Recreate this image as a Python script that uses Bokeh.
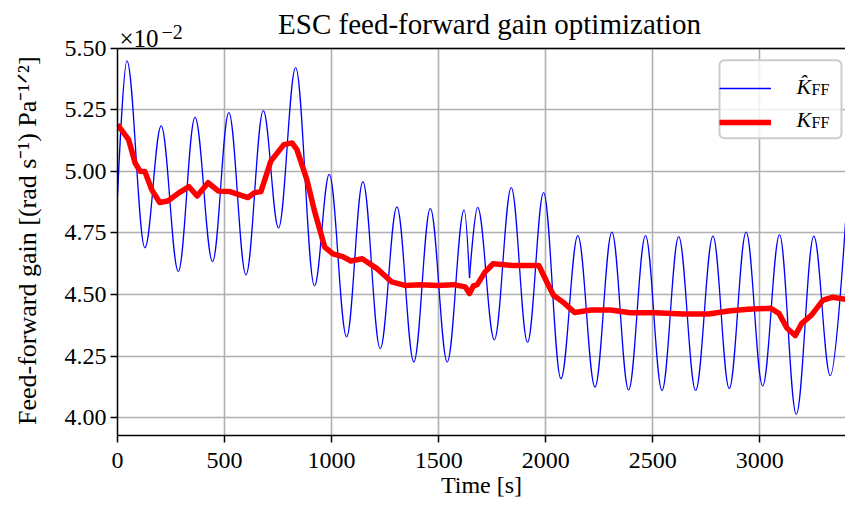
from bokeh.plotting import figure
from bokeh.models import (FixedTicker, PrintfTickFormatter, Label, Legend,
                          LegendItem, ColumnDataSource, Span, BoxAnnotation)
from bokeh.embed import file_html
from bokeh.resources import INLINE

# ---------------- data (values in units of 1e-2) ----------------
title_text = "ESC feed-forward gain optimization"
x_label = "Time [s]"
y_label = "Feed-forward gain [(rad s\u207b\u00b9) Pa\u207b\u00b9\u141f\u00b2]"
x_ticks = [0, 500, 1000, 1500, 2000, 2500, 3000]
y_ticks = [4.00, 4.25, 4.50, 4.75, 5.00, 5.25, 5.50]
x_lim = (0, 3400)
y_lim = (3.927, 5.50)

# estimate K_hat_FF: turning points of the dithered signal (time, value)
khat_t = [0, 44, 128, 204, 284, 362, 444, 520, 600, 681, 752, 832, 920, 989,
          1070, 1146, 1227, 1305, 1384, 1461, 1540, 1619, 1644, 1682, 1760,
          1839, 1915, 1990, 2071, 2150, 2230, 2309, 2387, 2466, 2543, 2621,
          2700, 2781, 2857, 2936, 3013, 3092, 3170, 3252, 3329, 3400]
khat_v = [4.90, 5.449, 4.69, 5.185, 4.594, 5.22, 4.634, 5.239, 4.58, 5.247,
          4.77, 5.422, 4.535, 4.988, 4.328, 4.958, 4.28, 4.856, 4.226, 4.85,
          4.226, 4.844, 4.567, 4.854, 4.316, 4.934, 4.306, 4.914, 4.158,
          4.739, 4.124, 4.753, 4.112, 4.739, 4.11, 4.735, 4.11, 4.737, 4.118,
          4.753, 4.128, 4.742, 4.013, 4.737, 4.17, 4.793]
# points where the curve has a corner instead of a smooth turn
khat_sharp_t = [0, 1644, 3400]

# K_FF (filtered gain)
k_t = [0, 52, 82, 105, 128, 159, 197, 235, 288, 334, 372, 423, 472, 525, 571,
       609, 640, 670, 716, 777, 815, 838, 884, 922, 968, 1006, 1052, 1090,
       1143, 1212, 1281, 1342, 1418, 1494, 1570, 1624, 1644, 1662, 1680, 1716,
       1754, 1845, 1968, 2005, 2036, 2082, 2135, 2212, 2303, 2395, 2517, 2639,
       2761, 2853, 2944, 3051, 3089, 3127, 3165, 3196, 3242, 3295, 3341, 3400]
k_v = [5.19, 5.129, 5.035, 5.001, 5.0, 4.927, 4.874, 4.88, 4.914, 4.938, 4.90,
       4.954, 4.92, 4.918, 4.905, 4.894, 4.914, 4.918, 5.042, 5.109, 5.116,
       5.089, 4.968, 4.833, 4.692, 4.665, 4.654, 4.636, 4.645, 4.605, 4.551,
       4.537, 4.54, 4.537, 4.54, 4.531, 4.504, 4.535, 4.54, 4.591, 4.625,
       4.618, 4.618, 4.551, 4.497, 4.468, 4.427, 4.437, 4.437, 4.426, 4.426,
       4.421, 4.421, 4.433, 4.44, 4.444, 4.423, 4.363, 4.333, 4.383, 4.417,
       4.477, 4.489, 4.48]

FONT = "Liberation Serif"
BLUE = "#0000ff"
RED = "#ff0000"

# layout (pixels): axes box from y=48 to y=436, header space above it
W, H = 845, 500
AX_TOP, AX_BOT, AX_LEFT = 48, 436, 117
scale = (AX_BOT - AX_TOP) / (y_lim[1] - y_lim[0])
y_top = y_lim[1] + AX_TOP / scale  # frame extends up to cover the header


def px_x(px):
    return x_lim[0] + (px - AX_LEFT) * (x_lim[1] - x_lim[0]) / (W - AX_LEFT)


def px_y(py):
    return y_lim[1] - (py - AX_TOP) / scale


p = figure(width=W, height=H, x_range=x_lim, y_range=(y_lim[0], y_top),
           output_backend="svg", toolbar_location=None,
           min_border_left=AX_LEFT, min_border_right=0, min_border_top=0,
           min_border_bottom=H - AX_BOT)
p.background_fill_color = "white"
p.border_fill_color = "white"
p.outline_line_color = None

for ax in (p.xaxis[0], p.yaxis[0]):
    ax.axis_line_width = 1.5
    ax.major_tick_line_width = 1.5
    ax.major_tick_out = 7
    ax.major_tick_in = 0
    ax.minor_tick_line_color = None
    ax.major_label_text_font = FONT
    ax.major_label_text_font_size = "24px"
    ax.major_label_text_color = "black"
    ax.axis_label_text_font = FONT
    ax.axis_label_text_font_size = "24px"
    ax.axis_label_text_font_style = "normal"
    ax.axis_label_text_color = "black"

p.xaxis.ticker = FixedTicker(ticks=x_ticks)
p.yaxis.ticker = FixedTicker(ticks=y_ticks)
p.yaxis.bounds = y_lim
p.yaxis.formatter = PrintfTickFormatter(format="%.2f")
p.xaxis.axis_label = x_label
# trailing no-break spaces centre the rotated label on the axes box
p.yaxis.axis_label = y_label + "\u00a0" * 7
p.yaxis.axis_label_text_font_size = "26px"
p.xaxis.major_label_standoff = 10
p.xaxis.axis_label_standoff = 1
p.yaxis.major_label_standoff = 4
p.yaxis.axis_label_standoff = 20

p.grid.grid_line_color = "#b0b0b0"
p.grid.grid_line_width = 1.6
xg = p.xgrid[0]
if "cross_bounds" in xg.properties():
    xg.cross_bounds = y_lim
else:
    xg.visible = False
    p.segment(x0=x_ticks, y0=[y_lim[0]] * len(x_ticks), x1=x_ticks,
              y1=[y_lim[1]] * len(x_ticks), line_color="#b0b0b0",
              line_width=1.6, level="underlay")

# top spine of the axes box
p.add_layout(Span(location=y_lim[1], dimension="width", line_color="black",
                  line_width=1.5))

# K_hat_FF: smooth curve through the turning points
K = 0.364
seg = dict(x0=[], y0=[], x1=[], y1=[], cx0=[], cy0=[], cx1=[], cy1=[])
for i in range(len(khat_t) - 1):
    t0, v0, t1, v1 = khat_t[i], khat_v[i], khat_t[i + 1], khat_v[i + 1]
    dt = t1 - t0
    seg["x0"].append(t0); seg["y0"].append(v0)
    seg["x1"].append(t1); seg["y1"].append(v1)
    if t0 in khat_sharp_t:
        seg["cx0"].append(t0); seg["cy0"].append(v0)
    else:
        seg["cx0"].append(t0 + K * dt); seg["cy0"].append(v0)
    if t1 in khat_sharp_t:
        seg["cx1"].append(t1); seg["cy1"].append(v1)
    else:
        seg["cx1"].append(t1 - K * dt); seg["cy1"].append(v1)
khat_r = p.bezier(x0="x0", y0="y0", x1="x1", y1="y1", cx0="cx0", cy0="cy0",
                  cx1="cx1", cy1="cy1", source=ColumnDataSource(seg),
                  line_color=BLUE, line_width=1.3)

k_line = p.line(k_t, k_v, line_color=RED, line_width=5.5, line_join="round")

# legend frame (semi-transparent, light grey border)
box = BoxAnnotation(left=px_x(719), right=px_x(841), top=px_y(60),
                    bottom=px_y(138), fill_color="white", fill_alpha=0.8,
                    line_color="#cccccc", line_alpha=1.0, line_width=2,
                    level="annotation")
if "border_radius" in box.properties():
    box.border_radius = 5
p.add_layout(box)

legend = Legend(items=[LegendItem(label=" ", renderers=[khat_r]),
                       LegendItem(label=" ", renderers=[k_line])],
                location=(602, 298), padding=7, spacing=4, margin=0,
                glyph_width=52, glyph_height=30, label_height=30,
                label_width=38, label_standoff=18,
                background_fill_color=None, border_line_color=None,
                label_text_font_size="2px")
p.add_layout(legend)


def lbl(text, x, xo, yo, size, style="normal", align="left"):
    p.add_layout(Label(x=x, y=y_lim[1], x_offset=xo, y_offset=yo, text=text,
                       text_font=FONT, text_font_size=size,
                       text_font_style=style, text_align=align,
                       text_baseline="alphabetic", text_color="black",
                       level="overlay"))


# legend texts
lbl("K\u0302", x_lim[1], -49, -38, "22px", "italic")
lbl("FF", x_lim[1], -34, -41, "16px")
lbl("K", x_lim[1], -49, -71, "22px", "italic")
lbl("FF", x_lim[1], -34, -74, "16px")

# axis offset text and title
lbl("\u00d710", x_lim[0], 2, 10, "25px")
lbl("\u22122", x_lim[0], 44, 16, "20px")
lbl(title_text, (x_lim[0] + x_lim[1]) / 2, 8, 24, "29px", align="center")

open("out.html", "w").write(file_html(p, INLINE))
